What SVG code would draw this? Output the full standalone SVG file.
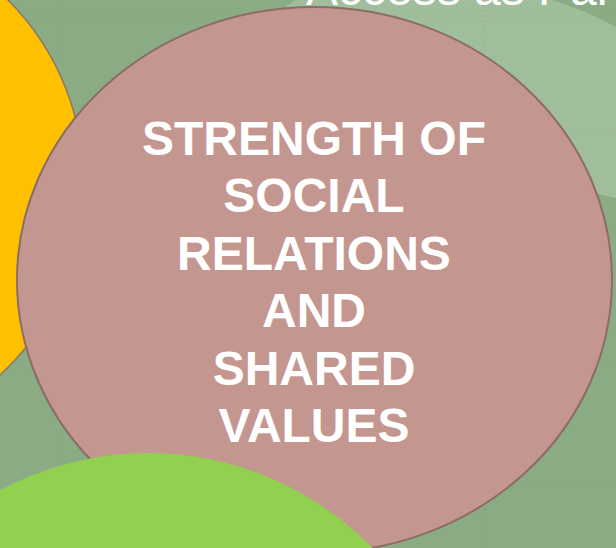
<svg xmlns="http://www.w3.org/2000/svg" width="616" height="548" viewBox="0 0 616 548">
  <style>
    .grid { stroke: #a39f86; stroke-width: 1.2; stroke-dasharray: 1.5 3.5; fill: none; opacity: 0.55; }
    .lbl { font-family: "Liberation Sans", Arial, sans-serif; fill: #ffffff; }
    .big { font-size: 48px; font-weight: bold; text-anchor: middle; }
  </style>
  <g id="background">
    <rect x="0" y="0" width="616" height="548" fill="#8aab84"/>
    <path d="M 270,30 C 280,10 292,0 300,-2 L 545,-2 C 572,6 596,16 616,27 L 616,198 C 608,196 602,195 594,193 L 420,160 Z" fill="#a0bd9c"/>
  </g>
  <g id="grid">
    <line class="grid" x1="0" y1="16" x2="616" y2="16"/>
    <line class="grid" x1="0" y1="133" x2="616" y2="133"/>
    <line class="grid" x1="0" y1="367" x2="616" y2="367"/>
    <line class="grid" x1="0" y1="484" x2="616" y2="484"/>
    <line class="grid" x1="63" y1="0" x2="63" y2="548"/>
    <line class="grid" x1="483" y1="0" x2="483" y2="548"/>
  </g>
  <g id="node-access">
    <text class="lbl" x="306" y="5" font-size="48">Access as Par</text>
  </g>
  <g id="node-yellow">
    <circle cx="-176.5" cy="183.6" r="260.3" fill="#ffc000" stroke="#8c766a" stroke-width="1.5"/>
  </g>
  <g id="node-strength">
    <ellipse cx="314.5" cy="280" rx="297.5" ry="273" fill="#c49690" stroke="#8b6c67" stroke-width="2"/>
    <text class="lbl big" x="314" y="155">STRENGTH OF</text>
    <text class="lbl big" x="314" y="212.4">SOCIAL</text>
    <text class="lbl big" x="314" y="269.8">RELATIONS</text>
    <text class="lbl big" x="314" y="327.2">AND</text>
    <text class="lbl big" x="314" y="384.6">SHARED</text>
    <text class="lbl big" x="314" y="442">VALUES</text>
  </g>
  <g id="node-lime">
    <ellipse cx="148" cy="778" rx="318" ry="325" fill="#92d050"/>
  </g>
  <g id="connectors"></g>
</svg>
